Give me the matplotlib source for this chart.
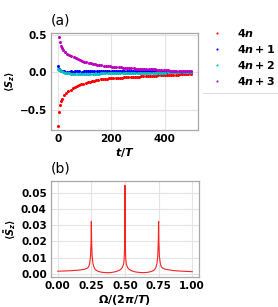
import numpy as np
import matplotlib
matplotlib.use('Agg')
import matplotlib.pyplot as plt
from matplotlib.lines import Line2D

# time grid for the stroboscopic points, series k sits at t = grid + k
t_grid = [0, 4, 8, 12, 16, 24, 32, 40, 48, 56, 64, 72, 80, 88, 96, 104, 112, 120,
          128, 136, 144, 152, 160, 168, 176, 184, 192, 200, 208, 216, 224, 232,
          240, 248, 256, 264, 272, 280, 288, 296, 304, 312, 320, 328, 336, 344,
          352, 360, 368, 376, 384, 392, 400, 408, 416, 424, 432, 440, 448, 456,
          464, 472, 480, 488, 496]

sz_4n = [-0.71, -0.53, -0.43, -0.38, -0.35, -0.30, -0.275, -0.25, -0.23, -0.215,
         -0.20, -0.185, -0.172, -0.16, -0.15, -0.14, -0.132, -0.125, -0.118, -0.111,
         -0.105, -0.099, -0.095, -0.091, -0.088, -0.085, -0.082, -0.080, -0.078,
         -0.076, -0.074, -0.072, -0.071, -0.069, -0.067, -0.066, -0.064, -0.062,
         -0.060, -0.058, -0.056, -0.054, -0.053, -0.051, -0.049, -0.048, -0.046,
         -0.045, -0.043, -0.041, -0.039, -0.037, -0.036, -0.035, -0.034, -0.033,
         -0.032, -0.031, -0.030, -0.029, -0.028, -0.027, -0.026, -0.025, -0.024]

sz_4n1 = [0.085, 0.040, 0.030, 0.022, 0.018, 0.012, 0.010, 0.008, 0.012, 0.009,
          0.013, 0.011, 0.014, 0.010, 0.013, 0.015, 0.012, 0.016, 0.013, 0.015,
          0.012, 0.014, 0.016, 0.013, 0.015, 0.012, 0.014, 0.016, 0.013, 0.015,
          0.012, 0.014, 0.013, 0.015, 0.012, 0.014, 0.013, 0.015, 0.012, 0.014,
          0.013, 0.012, 0.014, 0.013, 0.012, 0.013, 0.011, 0.013, 0.012, 0.011,
          0.012, 0.011, 0.012, 0.010, 0.011, 0.010, 0.011, 0.009, 0.010, 0.009,
          0.010, 0.009, 0.009, 0.008, 0.008]

sz_4n2 = [0.045, 0.035, 0.025, 0.012, 0.004, -0.004, -0.010, -0.014, -0.016, -0.018,
          -0.019, -0.020, -0.020, -0.021, -0.021, -0.020, -0.020, -0.019, -0.019,
          -0.018, -0.017, -0.016, -0.015, -0.014, -0.013, -0.012, -0.012, -0.011,
          -0.010, -0.010, -0.009, -0.009, -0.008, -0.008, -0.007, -0.007, -0.007,
          -0.006, -0.006, -0.006, -0.005, -0.005, -0.005, -0.005, -0.004, -0.004,
          -0.004, -0.004, -0.003, -0.003, -0.003, -0.003, -0.003, -0.002, -0.002,
          -0.002, -0.002, -0.002, -0.002, -0.001, -0.001, -0.001, -0.001, -0.001,
          -0.001]

sz_4n3 = [0.465, 0.40, 0.35, 0.32, 0.30, 0.275, 0.25, 0.23, 0.215, 0.20, 0.185,
          0.172, 0.162, 0.152, 0.143, 0.135, 0.128, 0.121, 0.115, 0.109, 0.103,
          0.098, 0.094, 0.090, 0.086, 0.083, 0.080, 0.077, 0.074, 0.071, 0.068,
          0.066, 0.063, 0.061, 0.058, 0.056, 0.054, 0.052, 0.050, 0.048, 0.047,
          0.045, 0.044, 0.043, 0.042, 0.041, 0.040, 0.038, 0.036, 0.034, 0.031,
          0.028, 0.027, 0.026, 0.024, 0.023, 0.022, 0.021, 0.020, 0.018, 0.017,
          0.016, 0.015, 0.014, 0.013]

labels = [r'$\boldsymbol{4n}$', r'$\boldsymbol{4n+1}$',
          r'$\boldsymbol{4n+2}$', r'$\boldsymbol{4n+3}$']

# spectrum of the signal
omega = [0.0, 0.05, 0.10, 0.15, 0.18, 0.20, 0.22, 0.23, 0.238, 0.244, 0.248, 0.25,
         0.252, 0.256, 0.262, 0.27, 0.28, 0.30, 0.33, 0.36, 0.39, 0.42, 0.45, 0.47,
         0.48, 0.49, 0.494, 0.497, 0.5, 0.503, 0.506, 0.51, 0.52, 0.53, 0.55, 0.58,
         0.61, 0.64, 0.67, 0.70, 0.72, 0.73, 0.738, 0.744, 0.748, 0.75, 0.752,
         0.756, 0.762, 0.77, 0.78, 0.80, 0.85, 0.90, 0.95, 1.0]
spec = [0.0016, 0.0017, 0.0019, 0.0022, 0.0025, 0.0028, 0.0035, 0.0043, 0.0065,
        0.011, 0.020, 0.0323, 0.020, 0.011, 0.0063, 0.0040, 0.0025, 0.0015, 0.0009,
        0.0007, 0.0007, 0.0011, 0.0018, 0.0028, 0.0038, 0.0060, 0.0090, 0.016,
        0.0545, 0.016, 0.0090, 0.0060, 0.0038, 0.0028, 0.0018, 0.0011, 0.0008,
        0.0007, 0.0009, 0.0015, 0.0025, 0.0040, 0.0063, 0.011, 0.020, 0.0323,
        0.020, 0.011, 0.0068, 0.0043, 0.0035, 0.0028, 0.0021, 0.0017, 0.0015,
        0.0013]

plt.rcParams['font.family'] = 'DejaVu Sans'
plt.rcParams['font.weight'] = 'bold'
plt.rcParams['axes.labelweight'] = 'bold'

fig = plt.figure(figsize=(2.78, 3.07), dpi=100)
ax1 = fig.add_axes([0.1835, 0.5765, 0.529, 0.316])
ax2 = fig.add_axes([0.1835, 0.0977, 0.532, 0.3127])

grid = np.array(t_grid)
colors = ['r', 'b', 'c', 'm']
for k, (vals, c, lab) in enumerate(zip([sz_4n, sz_4n1, sz_4n2, sz_4n3], colors, labels)):
    ax1.plot(grid + k, vals, 'o', color=c, ms=2.2, mew=0, label=lab)

ax2.plot(omega, spec, '-', color='#ff2020', lw=0.8)

for ax in (ax1, ax2):
    ax.grid(True, color='#e3e3e3', lw=0.8)
    ax.set_axisbelow(True)
    for s in ax.spines.values():
        s.set_color('#a8a8a8')
        s.set_linewidth(0.9)
    ax.tick_params(length=0, labelsize=7.5, pad=3)
    for lb in ax.get_xticklabels() + ax.get_yticklabels():
        lb.set_fontweight('bold')

ax1.set_xticks([0, 200, 400])
ax1.set_yticks([-0.5, 0.0, 0.5])
ax1.set_xlabel(r'$\boldsymbol{t/T}$', fontsize=8, labelpad=1)
ax1.set_ylabel(r'$\langle S_z \rangle$', fontsize=7, labelpad=2)
ax1.set_title('(a)', loc='left', fontsize=10, fontweight='normal', pad=6)

ax2.set_xticks([0, 0.25, 0.5, 0.75, 1.0])
ax2.set_yticks([0, 0.01, 0.02, 0.03, 0.04, 0.05])
ax2.set_xlabel(r'$\boldsymbol{\Omega/(2\pi/T)}$', fontsize=8, labelpad=1)
ax2.set_ylabel(r'$\langle \tilde{S}_z \rangle$', fontsize=7, labelpad=2)
ax2.set_title('(b)', loc='left', fontsize=10, fontweight='normal', pad=6)

ax1.legend(loc='upper left', bbox_to_anchor=(0.99, 1.15), frameon=False,
           fontsize=8, handletextpad=0.8, labelspacing=0.35, markerscale=0.7,
           borderpad=0.3)
fig.add_artist(Line2D([0.73, 1.0], [0.698, 0.698], color='#dcdcdc', lw=0.8,
                      transform=fig.transFigure))

fig.savefig('out.png', dpi=100)
